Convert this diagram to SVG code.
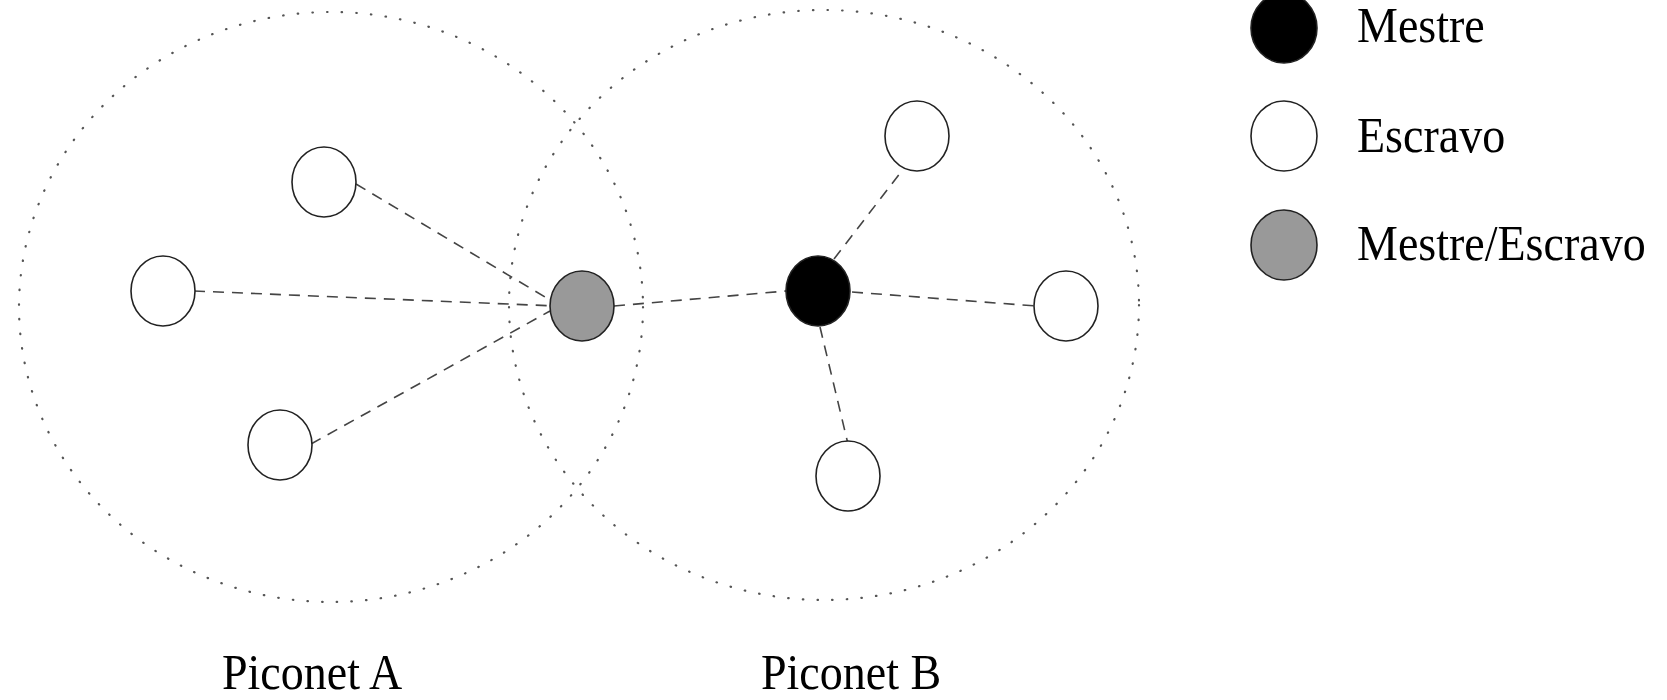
<svg xmlns="http://www.w3.org/2000/svg" width="1667" height="700" viewBox="0 0 1667 700">
<style>
.range{fill:none;stroke:#555;stroke-width:2.2;stroke-linecap:round;stroke-dasharray:0.5 14.2}
.link{stroke:#444;stroke-width:1.6;stroke-dasharray:11 8;fill:none}
.node{stroke:#222;stroke-width:1.6}
.slave{fill:#fff}
.master{fill:#000}
.both{fill:#999}
.lbl{font-family:"Liberation Serif","Times New Roman",serif;font-size:46px;fill:#000}
</style>
<rect width="1667" height="700" fill="#fff"/>
<g id="piconets">
<ellipse id="piconetA-range" class="range" cx="331" cy="307" rx="312" ry="295"/>
<ellipse id="piconetB-range" class="range" cx="824" cy="305" rx="315" ry="295"/>
</g>
<g id="connectors">
<line class="link" x1="356" y1="184" x2="550" y2="300"/>
<line class="link" x1="194" y1="291" x2="556" y2="306"/>
<line class="link" x1="311" y1="444" x2="550" y2="311"/>
<line class="link" x1="614" y1="306" x2="786" y2="291"/>
<line class="link" x1="834" y1="259" x2="901" y2="172"/>
<line class="link" x1="852" y1="292" x2="1036" y2="306"/>
<line class="link" x1="820" y1="327" x2="848" y2="444"/>
</g>
<g id="a-slave-top"><ellipse class="node slave" cx="324" cy="182" rx="32" ry="35"/></g>
<g id="a-slave-left"><ellipse class="node slave" cx="163" cy="291" rx="32" ry="35"/></g>
<g id="a-slave-bottom"><ellipse class="node slave" cx="280" cy="445" rx="32" ry="35"/></g>
<g id="bridge"><ellipse class="node both" cx="582" cy="306" rx="32" ry="35"/></g>
<g id="b-master"><ellipse class="node master" cx="818" cy="291" rx="32" ry="35"/></g>
<g id="b-slave-top"><ellipse class="node slave" cx="917" cy="136" rx="32" ry="35"/></g>
<g id="b-slave-right"><ellipse class="node slave" cx="1066" cy="306" rx="32" ry="35"/></g>
<g id="b-slave-bottom"><ellipse class="node slave" cx="848" cy="476" rx="32" ry="35"/></g>
<g id="label-a"><text class="lbl" transform="translate(222,689) scale(1,1.09)">Piconet A</text></g>
<g id="label-b"><text class="lbl" transform="translate(761,689) scale(1,1.09)">Piconet B</text></g>
<g id="legend">
<g id="legend-master"><ellipse class="node master" cx="1284" cy="28" rx="33" ry="35"/><text class="lbl" transform="translate(1357,42) scale(1,1.09)">Mestre</text></g>
<g id="legend-slave"><ellipse class="node slave" cx="1284" cy="136" rx="33" ry="35"/><text class="lbl" transform="translate(1357,152) scale(1,1.09)">Escravo</text></g>
<g id="legend-both"><ellipse class="node both" cx="1284" cy="245" rx="33" ry="35"/><text class="lbl" transform="translate(1357,260) scale(1,1.09)">Mestre/Escravo</text></g>
</g>
</svg>
